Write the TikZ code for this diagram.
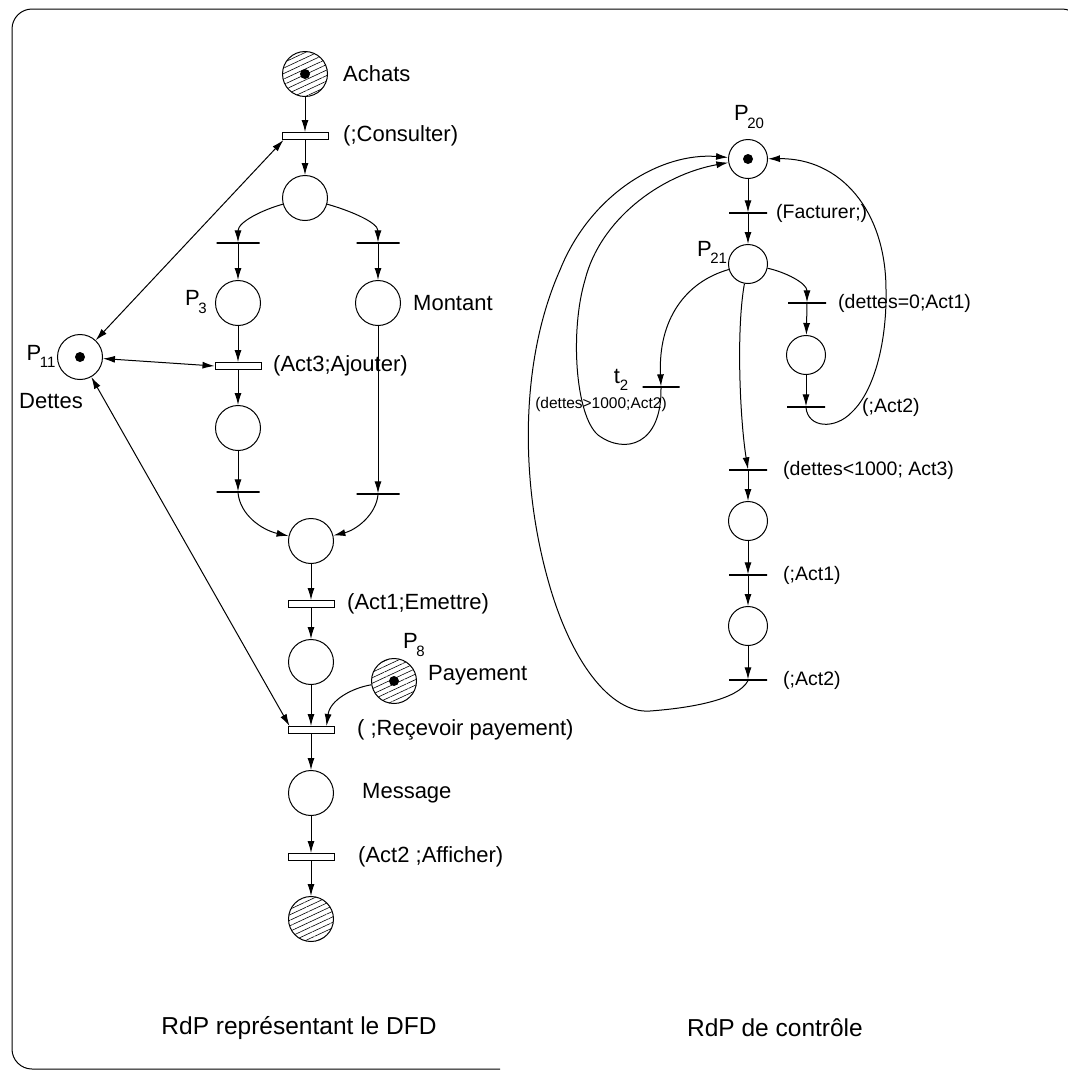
\documentclass[tikz,border=0pt]{standalone}
\usepackage{fontspec}
\setmainfont{Liberation Sans}
\usetikzlibrary{arrows.meta,patterns.meta,calc}
\newcommand\Psub[2]{#1\kern-1.5pt\raisebox{-0.32em}{\fontsize{15}{15}\selectfont #2}}
\begin{document}
\begin{tikzpicture}[x=1pt,y=-1pt,
  lbl/.style={font=\fontsize{22}{26}\selectfont, inner sep=0pt},
  rlbl/.style={font=\fontsize{19.5}{23}\selectfont, inner sep=0pt},
  slbl/.style={font=\fontsize{15.5}{18}\selectfont, inner sep=0pt},
  captxt/.style={font=\fontsize{24.5}{29}\selectfont, inner sep=0pt},
  place/.style={circle,draw,line width=1pt,minimum size=45pt,inner sep=0pt},
  rplace/.style={circle,draw,line width=1pt,minimum size=39pt,inner sep=0pt},
  hatched/.style={pattern={Lines[angle=25,distance=5pt,line width=0.6pt]}},
  bar/.style={rectangle,draw,line width=1pt,minimum width=46pt,minimum height=7pt,inner sep=0pt},
  tline/.style={rectangle,draw,line width=1.3pt,minimum width=#1,minimum height=0pt,inner sep=0pt},
  tline/.default=43pt,
  arr/.style={-{Latex[length=12pt,width=7pt]},line width=1pt},
  barr/.style={{Latex[length=12pt,width=7pt]}-{Latex[length=12pt,width=7pt]},line width=1pt},
  token/.style={circle,fill,minimum size=10pt,inner sep=0pt},
  frame/.style={line width=1pt,rounded corners=20pt}
]
\useasboundingbox (0,0) rectangle (1068,1072);
\clip (0,0) rectangle (1068,1072);
\draw[frame] (500,1069) -- (12,1069) -- (12,9) -- (1082,9) -- (1082,1069);

% ---------------- left net ----------------
\node[place,hatched] (achats) at (305,74) {};
\node[token] (achatsT) at (achats) {};
\node[lbl,anchor=west] (achatsL) at (343,74) {Achats};

\node[bar] (cons) at (305,136) {};
\node[lbl,anchor=west] (consL) at (343,136) {(;Consulter)};

\node[place] (c1) at (305,198) {};
\node[tline] (t1) at (238,243) {};
\node[tline] (t2) at (378,243) {};

\node[place] (p3) at (238,303) {};
\node[lbl] (p3L) at (196,302) {\Psub{P}{3}};
\node[place] (mont) at (378,303) {};
\node[lbl,anchor=west] (montL) at (413,303) {Montant};

\node[bar] (aj) at (238,366) {};
\node[lbl,anchor=west] (ajL) at (273,366) {(Act3;Ajouter)};

\node[place] (p11) at (80,357) {};
\node[token] (p11T) at (p11) {};
\node[lbl] (p11L) at (41,356) {\Psub{P}{11}};
\node[lbl] (dettesL) at (51,401) {Dettes};

\node[place] (c2) at (238,428) {};
\node[tline] (t3) at (238,492) {};
\node[tline] (t4) at (378,494) {};

\node[place] (merge) at (311,541) {};
\node[bar] (emet) at (311,604) {};
\node[lbl,anchor=west] (emetL) at (347,604) {(Act1;Emettre)};

\node[place] (c3) at (311,662) {};
\node[place,hatched] (p8) at (394,681) {};
\node[token] (p8T) at (p8) {};
\node[lbl] (p8L) at (414,645) {\Psub{P}{8}};
\node[lbl,anchor=west] (payL) at (428,675) {Payement};

\node[bar] (rec) at (311,730) {};
\node[lbl,anchor=west] (recL) at (357,730) {( ;Reçevoir payement)};

\node[place] (msg) at (311,793) {};
\node[lbl,anchor=west] (msgL) at (362,793) {Message};

\node[bar] (aff) at (311,857) {};
\node[lbl,anchor=west] (affL) at (358,857) {(Act2 ;Afficher)};

\node[place,hatched] (fin) at (311,919) {};

% left arcs
\draw[arr] (achats) -- (cons);
\draw[arr] (cons) -- (c1);
\draw[arr] (c1) .. controls (262,210) and (238,222) .. (t1.north);
\draw[arr] (c1) .. controls (348,210) and (378,222) .. (t2.north);
\draw[arr] (t1) -- (p3);
\draw[arr] (t2) -- (mont);
\draw[arr] (p3) -- (aj);
\draw[arr] (aj) -- (c2);
\draw[arr] (c2) -- (t3);
\draw[arr] (mont) -- (t4);
\draw[arr] (t3.south) .. controls (240,515) and (262,530) .. (merge);
\draw[arr] (t4.south) .. controls (376,515) and (356,530) .. (merge);
\draw[arr] (merge) -- (emet);
\draw[arr] (emet) -- (c3);
\draw[arr] (c3) -- (rec);
\draw[arr] (p8) .. controls (352,688) and (330,700) .. ([xshift=-8pt]rec.north east);
\draw[arr] (rec) -- (msg);
\draw[arr] (msg) -- (aff);
\draw[arr] (aff) -- (fin);
\draw[barr] (p11) -- ([xshift=2pt]cons.south west);
\draw[barr] (p11) -- (aj.west);
\draw[barr] (p11) -- ([xshift=2pt]rec.north west);

% ---------------- right net ----------------
\node[rplace] (p20) at (748,159) {};
\node[token] (p20T) at (p20) {};
\node[lbl] (p20L) at (749,117) {\Psub{P}{20}};

\node[tline=38pt] (tf) at (748,213) {};
\node[rlbl,anchor=west] (tfL) at (776,213) {(Facturer;)};

\node[rplace] (p21) at (748,264) {};
\node[lbl] (p21L) at (712,252) {\Psub{P}{21}};

\node[tline=38pt] (t0) at (807,303) {};
\node[rlbl,anchor=west] (t0L) at (838,303) {(dettes=0;Act1)};
\node[rplace] (pa) at (806,355) {};
\node[tline=38pt] (ta) at (806,407) {};
\node[rlbl,anchor=west] (taL) at (862,407) {(;Act2)};

\node[tline=37pt] (tt2) at (661,387) {};
\node[lbl] (tt2L) at (621,380) {t\raisebox{-0.3em}{\fontsize{15}{15}\selectfont 2}};
\node[slbl] (tt2C) at (601,404) {(dettes>1000;Act2)};

\node[tline=38pt] (tc) at (748,470) {};
\node[rlbl,anchor=west] (tcL) at (783,470) {(dettes<1000; Act3)};
\node[rplace] (pb) at (748,521) {};
\node[tline=38pt] (td) at (748,575) {};
\node[rlbl,anchor=west] (tdL) at (783,575) {(;Act1)};
\node[rplace] (pc) at (748,626) {};
\node[tline=38pt] (te) at (748,680) {};
\node[rlbl,anchor=west] (teL) at (783,680) {(;Act2)};

% right arcs
\draw[arr] (p20) -- (tf);
\draw[arr] (tf) -- (p21);
\draw[arr] (p21) .. controls (785,272) and (807,283) .. (t0.north);
\draw[arr] (t0) -- (pa);
\draw[arr] (pa) -- (ta);
\draw[arr] (ta.south) .. controls (808,428) and (835,430) .. (852,412)
   .. controls (875,390) and (887,340) .. (886,290)
   .. controls (886,210) and (840,158) .. (p20);
\draw[arr] (p21) .. controls (685,282) and (658,320) .. (tt2.north);
\draw[arr] (tt2.south) .. controls (662,445) and (625,455) .. (598,435)
   .. controls (575,415) and (570,330) .. (585,280)
   .. controls (600,220) and (660,175) .. (p20);
\draw[arr] (p21) .. controls (736,330) and (740,420) .. (tc.north);
\draw[arr] (tc) -- (pb);
\draw[arr] (pb) -- (td);
\draw[arr] (td) -- (pc);
\draw[arr] (pc) -- (te);
\draw[arr] (te.south) .. controls (738,700) and (690,708) .. (650,711)
   .. controls (610,714) and (570,660) .. (548,580)
   .. controls (520,480) and (520,360) .. (560,270)
   .. controls (590,195) and (660,152) .. (p20);

% captions
\node[captxt] (capL) at (299,1028) {RdP représentant le DFD};
\node[captxt] (capR) at (775,1028) {RdP de contrôle};
\end{tikzpicture}
\end{document}
